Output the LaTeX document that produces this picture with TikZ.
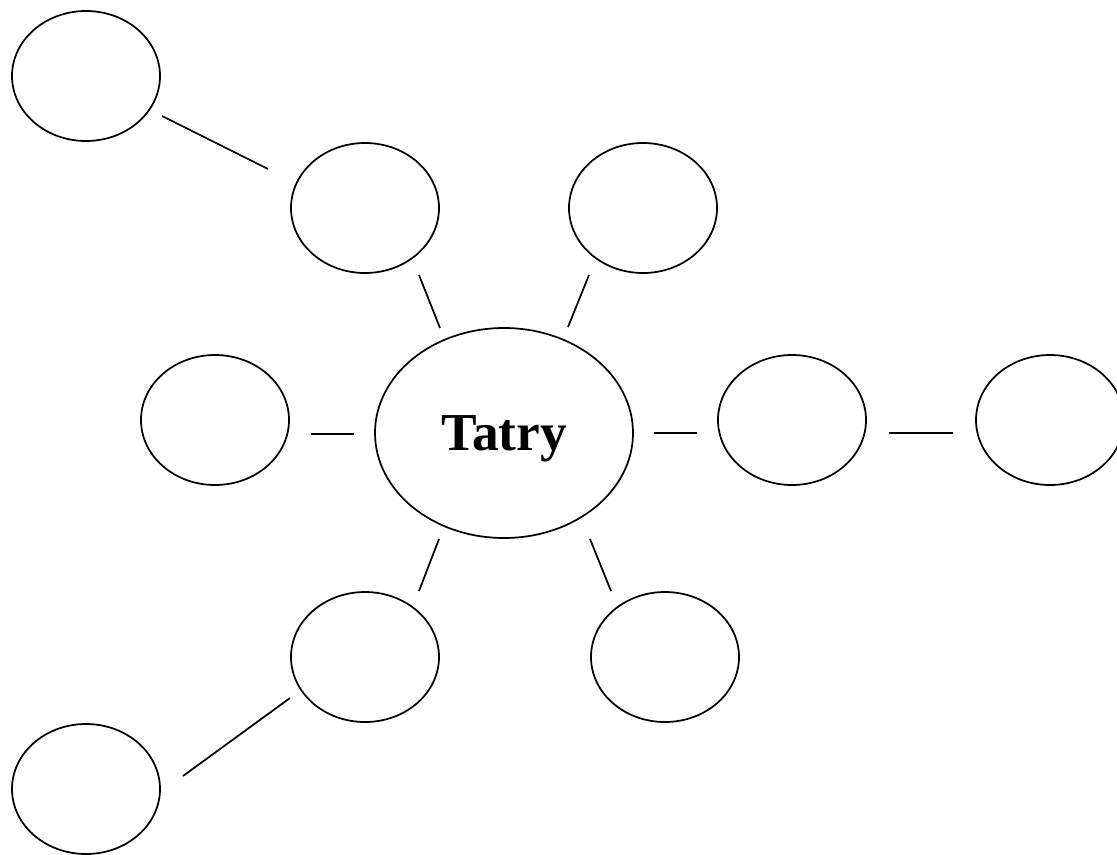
\documentclass[tikz,border=0pt]{standalone}
\usepackage{fontspec}
\setmainfont{Liberation Serif}
\usetikzlibrary{shapes.geometric, calc}

\begin{document}
\begin{tikzpicture}
[
    x=0.75pt, y=-0.75pt, line width=1.3pt,
    % Coordinates are given in pixels, y grows downwards
    % Nodes are named after their place: tl, ul, ur, l, c, r, fr, ll, lr, bl
]

%=================================== Start ===================================
\tikzstyle{blob} = [ellipse, draw, minimum width=111pt, minimum height=97.5pt, inner sep=0pt]
\tikzstyle{hub}  = [ellipse, draw, minimum width=193.5pt, minimum height=157.5pt, inner sep=0pt,
                    font=\fontsize{40}{48}\selectfont\bfseries, text depth=0pt]

\useasboundingbox (0,0) rectangle (1117,854);

% Draw the centre
\node[hub] (c) at (504,433) {Tatry};

% Draw the empty ellipses
\foreach \id / \x / \y in {tl/86/76, ul/365/208, ur/643/208,
                           l/215/420, r/792/420, fr/1050/420,
                           ll/365/657, lr/665/657, bl/86/789}
    \node[blob] (\id) at (\x,\y) {};

% Connect nodes (the lines stop short of the ellipses)
\foreach \a / \ax / \ay / \b / \bx / \by in {tl/76/40/ul/-97/-39,
                                             ul/54/67/c/-64/-105,
                                             ur/-54/67/c/64/-106,
                                             l/96/14/c/-150/1,
                                             c/150/0/r/-95/13,
                                             r/97/13/fr/-97/13,
                                             c/-65/106/ll/54/-66,
                                             c/86/106/lr/-54/-66,
                                             ll/-75/41/bl/97/-13}
    \draw ($(\a)+(\ax,\ay)$) -- ($(\b)+(\bx,\by)$);
%==================================== END ====================================

\end{tikzpicture}
\end{document}
